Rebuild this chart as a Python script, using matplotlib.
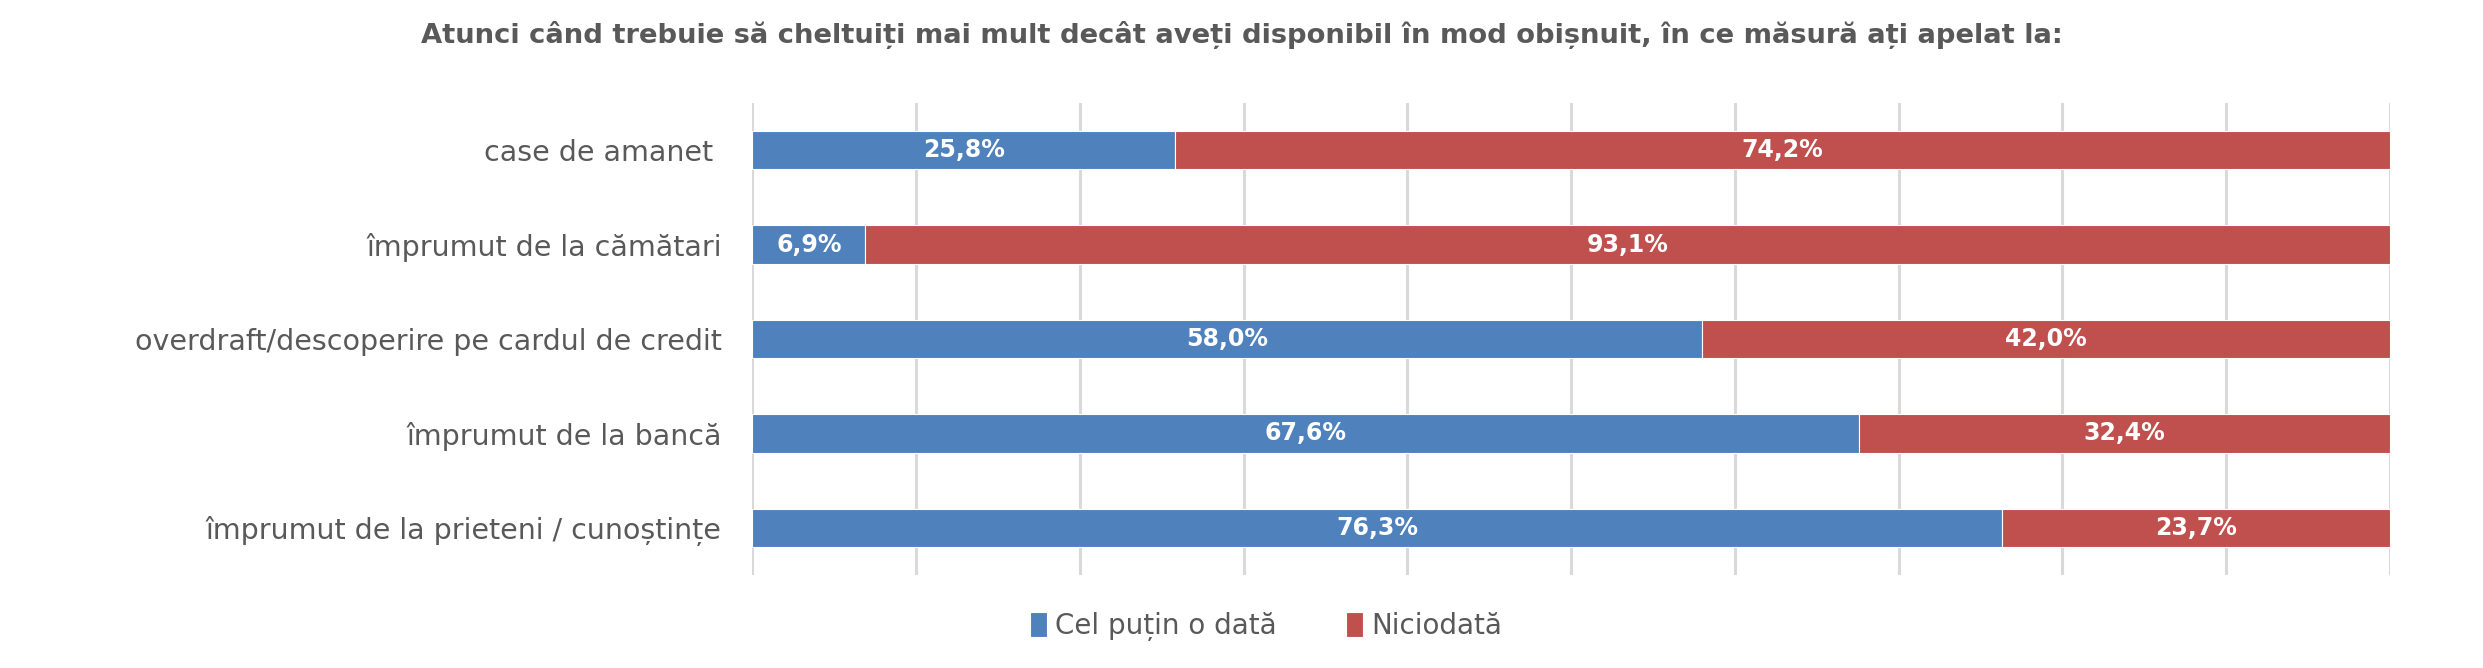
import matplotlib
matplotlib.use('Agg')
import matplotlib.pyplot as plt
import numpy as np

plt.rcParams['font.family'] = ['DejaVu Sans']

# Data
categories = [
    'case de amanet ',
    'împrumut de la cămătari',
    'overdraft/descoperire pe cardul de credit',
    'împrumut de la bancă',
    'împrumut de la prieteni / cunoștințe',
]
at_least_once = [25.8, 6.9, 58.0, 67.6, 76.3]
never = [74.2, 93.1, 42.0, 32.4, 23.7]
series_names = ['Cel puțin o dată', 'Niciodată']
title = 'Atunci când trebuie să cheltuiți mai mult decât aveți disponibil în mod obișnuit, în ce măsură ați apelat la:'

blue = '#4F81BD'
red = '#C0504D'
grey_text = '#595959'

fig = plt.figure(figsize=(24.83, 6.68), dpi=100)
ax = fig.add_axes([0.303, 0.139, 0.6595, 0.707])

y = np.arange(len(categories))
h = 0.41
b1 = ax.barh(y, at_least_once, height=h, color=blue, edgecolor='white', linewidth=0.8,
             label=series_names[0], zorder=3)
b2 = ax.barh(y, never, left=at_least_once, height=h, color=red, edgecolor='white',
             linewidth=0.8, label=series_names[1], zorder=3)

# segment labels in the middle of each bar piece
for bars, vals, lefts in [(b1, at_least_once, [0] * len(y)), (b2, never, at_least_once)]:
    for yi, v, l in zip(y, vals, lefts):
        ax.text(l + v / 2, yi, f'{v:.1f}%'.replace('.', ','), ha='center', va='center',
                color='white', fontsize=17, fontweight='bold', zorder=4)

ax.set_xlim(0, 100)
ax.set_ylim(len(categories) - 0.5, -0.5)
ax.set_xticks(np.arange(0, 101, 10))
ax.set_xticklabels([])
ax.tick_params(axis='x', length=0)
ax.tick_params(axis='y', length=0, pad=22)
ax.set_yticks(y)
ax.set_yticklabels(categories, fontsize=20.5, color=grey_text)
ax.grid(axis='x', color='#D9D9D9', linewidth=2.2, zorder=0)
for s in ax.spines.values():
    s.set_visible(False)

fig.text(0.5, 0.948, title, ha='center', va='center', fontsize=19.7, fontweight='bold',
         color=grey_text)

fig.legend(handles=[b1, b2], labels=series_names, loc='center', bbox_to_anchor=(0.51, 0.062),
           ncol=2, frameon=False, fontsize=20, labelcolor=grey_text, handlelength=0.6,
           handleheight=1.0, handletextpad=0.3, columnspacing=2.5)

fig.savefig('out.png', dpi=100)
